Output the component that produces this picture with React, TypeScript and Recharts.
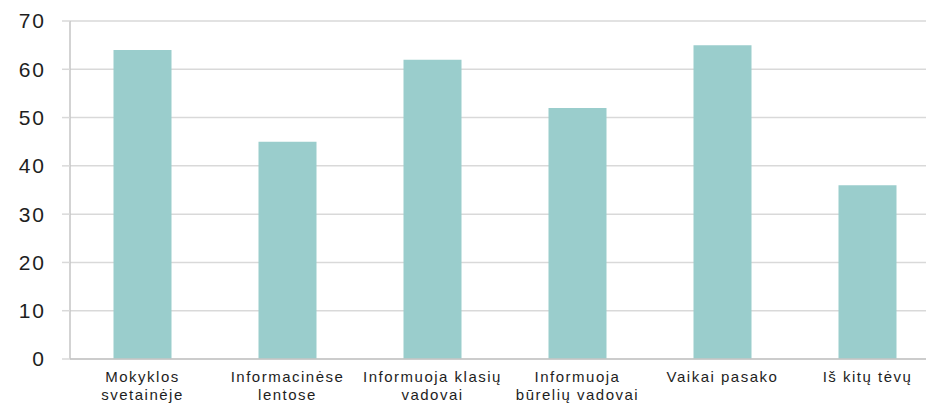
import { Bar, BarChart, CartesianGrid, XAxis, YAxis } from "recharts";

const CATEGORIES = [
  "Mokyklos\nsvetainėje",
  "Informacinėse\nlentose",
  "Informuoja klasių\nvadovai",
  "Informuoja\nbūrelių vadovai",
  "Vaikai pasako",
  "Iš kitų tėvų",
];
const VALUES = [64, 45, 62, 52, 65, 36];
const Y_TICKS = [0, 10, 20, 30, 40, 50, 60, 70];
const BOUNDARY_TICKS = [0, 1, 2, 3, 4, 5, 6];

const FONT = '"Liberation Sans", Arial, sans-serif';
const BAR_COLOR = "#9acdcc";
const GRID = "#d9d9d9";
const AXIS = "#c4c4c4";

interface TickProps {
  x?: number;
  y?: number;
  payload?: { value: string };
}

function CategoryTick({ x = 0, y = 0, payload }: TickProps) {
  const lines = String(payload?.value ?? "").split("\n");
  return (
    <text
      x={x}
      y={y}
      textAnchor="middle"
      fill="#1e1e1e"
      fontSize={15}
      fontFamily={FONT}
      letterSpacing={1.5}
    >
      {lines.map((line, i) => (
        <tspan key={i} x={x} dy={i === 0 ? "0.71em" : 18}>
          {line}
        </tspan>
      ))}
    </text>
  );
}

export default function App() {
  const data = CATEGORIES.map((name, i) => ({ name, value: VALUES[i] }));
  return (
    <div
      style={{
        position: "fixed",
        left: 0,
        top: 0,
        width: 926,
        height: 403,
        overflow: "hidden",
        background: "#fff",
      }}
    >
      <BarChart
        width={940}
        height={403}
        data={data}
        margin={{ top: 21, right: 0, bottom: 0, left: 0 }}
        barCategoryGap="30%"
      >
        <CartesianGrid stroke={GRID} strokeWidth={1.5} vertical={false} />
        <XAxis
          xAxisId="bounds"
          type="number"
          domain={[0, 6]}
          ticks={BOUNDARY_TICKS}
          allowDataOverflow
          height={0}
          tick={() => <g />}
          tickSize={5}
          tickLine={{ stroke: AXIS, strokeWidth: 1.5 }}
          axisLine={false}
        />
        <XAxis
          dataKey="name"
          height={44}
          interval={0}
          tickSize={0}
          tickMargin={12}
          tickLine={false}
          axisLine={{ stroke: AXIS, strokeWidth: 1.5 }}
          tick={<CategoryTick />}
        />
        <YAxis
          width={70}
          domain={[0, 70]}
          ticks={Y_TICKS}
          interval={0}
          tickSize={8}
          tickMargin={16}
          tickLine={{ stroke: GRID, strokeWidth: 1.5 }}
          axisLine={{ stroke: AXIS, strokeWidth: 1.5 }}
          tick={{
            fill: "#1e1e1e",
            fontSize: 21,
            fontFamily: FONT,
            letterSpacing: 2,
          }}
        />
        <Bar dataKey="value" fill={BAR_COLOR} isAnimationActive={false} />
      </BarChart>
    </div>
  );
}
